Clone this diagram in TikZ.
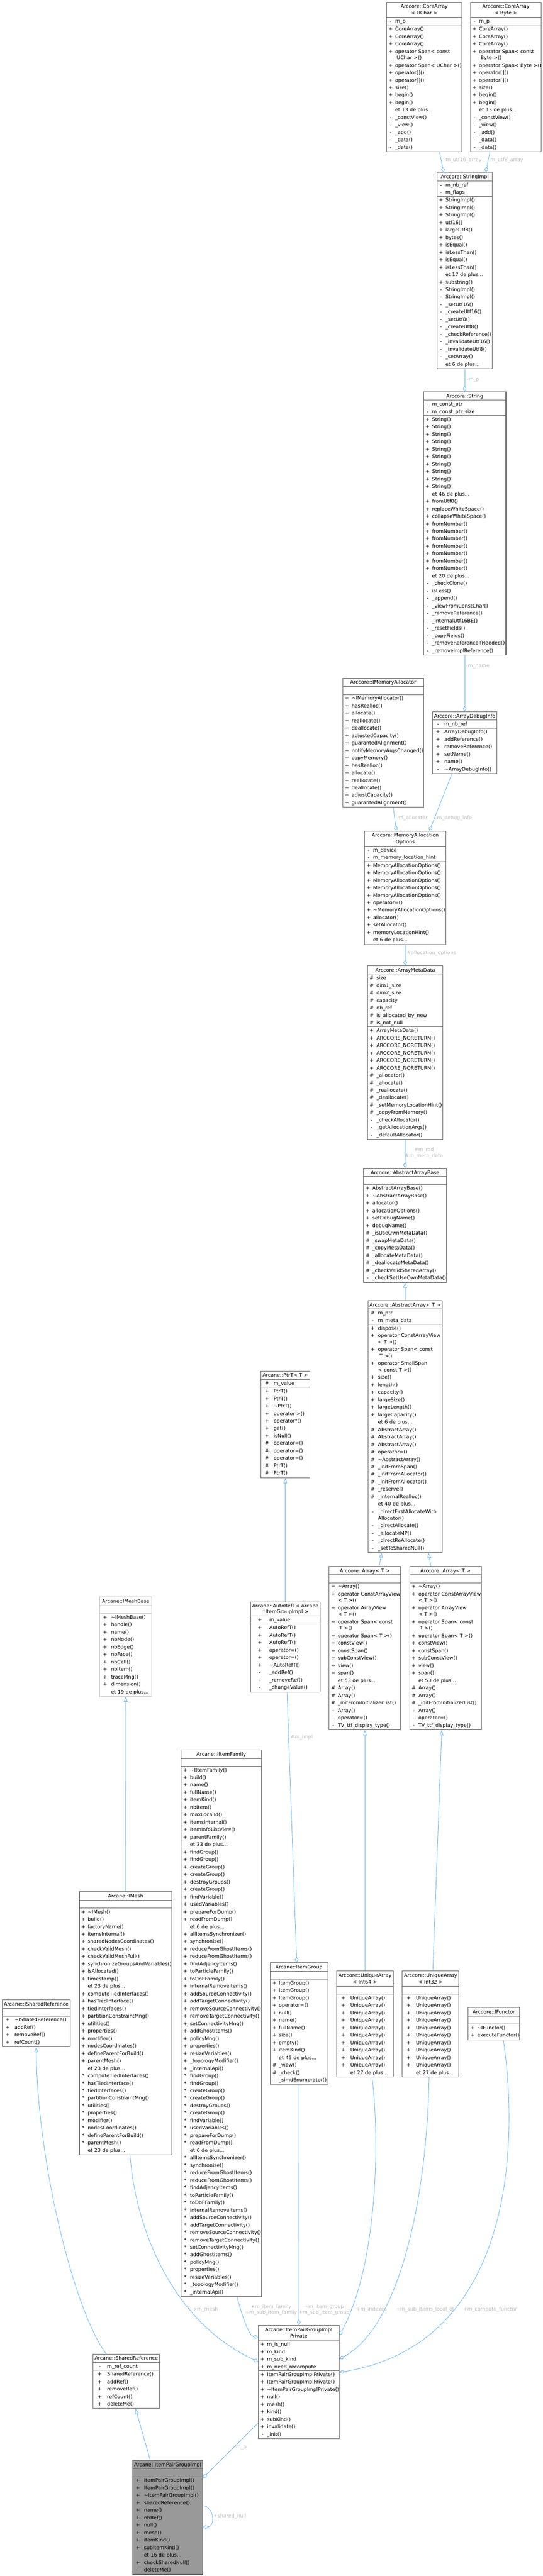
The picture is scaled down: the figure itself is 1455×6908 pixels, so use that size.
\documentclass[tikz,border=0pt]{standalone}
\usepackage{fontspec}
\setmainfont{DejaVu Sans}
\usetikzlibrary{arrows.meta, calc}

\definecolor{boxline}{HTML}{666666}
\definecolor{lightline}{HTML}{BFBFBF}
\definecolor{focusfill}{HTML}{999999}
\definecolor{edgeblue}{HTML}{63B8FF}
\definecolor{lblgray}{HTML}{BEBEBE}
\colorlet{sepcolor}{boxline}

\newdimen\px \px=0.75pt
\newdimen\sgnx \newdimen\namex
\newcommand\classbody[3]{\vbox{\offinterlineskip\sgnx=#1\px\namex=#2\px #3}}
\newcommand\rowbox[4]{\hbox to\hsize{\hbox to 2\sgnx{\hss#1\hss}\kern\dimexpr\namex-2\sgnx\relax#2\hss\vrule height #3 depth #4 width 0pt}}
\newcommand\rpub[1]{\rowbox{+}{#1}{10.9pt}{4.1pt}}
\newcommand\rpri[1]{\rowbox{-}{#1}{10.9pt}{4.1pt}}
\newcommand\rpro[1]{\rowbox{\#}{#1}{10.9pt}{4.1pt}}
\newcommand\rpkg[1]{\rowbox{*}{#1}{10.9pt}{4.1pt}}
\newcommand\retc[1]{\rowbox{}{#1}{10.9pt}{4.1pt}}
\newcommand\rpubtwo[2]{\rowbox{+}{#1}{10.9pt}{0.35pt}\rowbox{}{#2}{10.9pt}{4.1pt}}
\newcommand\rpritwo[2]{\rowbox{-}{#1}{10.9pt}{0.35pt}\rowbox{}{#2}{10.9pt}{4.1pt}}
\newcommand\ctitle[1]{\hbox to\hsize{\hss#1\hss\vrule height 12pt depth 4.5pt width 0pt}}
\newcommand\ctitletwo[2]{\hbox to\hsize{\hss#1\hss\vrule height 12pt depth 0.1pt width 0pt}\hbox to\hsize{\hss#2\hss\vrule height 11.15pt depth 4.85pt width 0pt}}
\newcommand\csep{{\color{sepcolor}\hrule height 0.75pt}}
\newcommand\cempty{\kern15pt}
\newcommand\cend{\kern1.5pt}

\tikzset{x=0.75pt, y=-0.75pt,
         classbox/.style={draw=boxline, fill=white, line width=1.1pt, inner sep=0pt,
                          anchor=north west, font=\fontsize{10pt}{12pt}\selectfont},
         focusbox/.style={classbox, fill=focusfill},
         lightbox/.style={classbox, draw=lightline},
         usedby/.style={draw=edgeblue, line width=0.9pt,
                        -{Diamond[open, length=11.25pt, width=7.5pt, line width=0.9pt]}},
         inherit/.style={draw=edgeblue, line width=0.9pt,
                         -{Triangle[open, length=10.5pt, width=7.5pt, line width=0.9pt]}},
         lbl/.style={text=lblgray, inner sep=0pt, align=center,
                     font=\fontsize{10pt}{11.5pt}\selectfont},
         }

\begin{document}
\begin{tikzpicture}
    \path[use as bounding box, fill=white] (0,0) rectangle (1455,6908);

    % Arccore arrays and strings
    \node[classbox, text width=151.5pt] (cauchar) at (1036,5) {\classbody{11}{23}{
        \ctitletwo{Arccore::CoreArray}{< UChar >}\csep
        \rpri{m\_p}\csep
        \rpub{CoreArray()}\rpub{CoreArray()}\rpub{CoreArray()}
        \rpubtwo{operator Span< const}{\kern3pt UChar >()}
        \rpub{operator Span< UChar >()}\rpub{operator[]()}\rpub{operator[]()}
        \rpub{size()}\rpub{begin()}\rpub{begin()}\retc{et 13 de plus...}
        \rpri{\_constView()}\rpri{\_view()}\rpri{\_add()}\rpri{\_data()}\rpri{\_data()}\cend}};
    \node[classbox, text width=142.5pt] (cabyte) at (1261,5) {\classbody{11}{23}{
        \ctitletwo{Arccore::CoreArray}{< Byte >}\csep
        \rpri{m\_p}\csep
        \rpub{CoreArray()}\rpub{CoreArray()}\rpub{CoreArray()}
        \rpubtwo{operator Span< const}{\kern3pt Byte >()}
        \rpub{operator Span< Byte >()}\rpub{operator[]()}\rpub{operator[]()}
        \rpub{size()}\rpub{begin()}\rpub{begin()}\retc{et 13 de plus...}
        \rpri{\_constView()}\rpri{\_view()}\rpri{\_add()}\rpri{\_data()}\rpri{\_data()}\cend}};
    \node[classbox, text width=111.75pt] (stringimpl) at (1171,462) {\classbody{11}{23}{
        \ctitle{Arccore::StringImpl}\csep
        \rpri{m\_nb\_ref}\rpri{m\_flags}\csep
        \rpub{StringImpl()}\rpub{StringImpl()}\rpub{StringImpl()}\rpub{utf16()}
        \rpub{largeUtf8()}\rpub{bytes()}\rpub{isEqual()}\rpub{isLessThan()}
        \rpub{isEqual()}\rpub{isLessThan()}\retc{et 17 de plus...}\rpub{substring()}
        \rpri{StringImpl()}\rpri{StringImpl()}\rpri{\_setUtf16()}\rpri{\_createUtf16()}
        \rpri{\_setUtf8()}\rpri{\_createUtf8()}\rpri{\_checkReference()}
        \rpri{\_invalidateUtf16()}\rpri{\_invalidateUtf8()}\rpri{\_setArray()}
        \retc{et 6 de plus...}\cend}};
    \node[classbox, text width=165.75pt] (string) at (1135,1050) {\classbody{11}{23}{
        \ctitle{Arccore::String}\csep
        \rpri{m\_const\_ptr}\rpri{m\_const\_ptr\_size}\csep
        \foreach \i in {1,...,10}{\rpub{String()}}
        \retc{et 46 de plus...}\rpub{fromUtf8()}\rpub{replaceWhiteSpace()}
        \rpub{collapseWhiteSpace()}
        \foreach \i in {1,...,7}{\rpub{fromNumber()}}
        \retc{et 20 de plus...}
        \rpri{\_checkClone()}\rpri{isLess()}\rpri{\_append()}\rpri{\_viewFromConstChar()}
        \rpri{\_removeReference()}\rpri{\_internalUtf16BE()}\rpri{\_resetFields()}
        \rpri{\_copyFields()}\rpri{\_removeReferenceIfNeeded()}\rpri{\_removeImplReference()}\cend}};

    % memory allocation
    \node[classbox, text width=162pt] (memalloc) at (919,1818) {\classbody{11}{23.5}{
        \ctitle{Arccore::IMemoryAllocator}\csep\cempty\csep
        \rpub{\textasciitilde IMemoryAllocator()}\rpub{hasRealloc()}\rpub{allocate()}
        \rpub{reallocate()}\rpub{deallocate()}\rpub{adjustedCapacity()}
        \rpub{guarantedAlignment()}\rpub{notifyMemoryArgsChanged()}\rpub{copyMemory()}
        \rpub{hasRealloc()}\rpub{allocate()}\rpub{reallocate()}\rpub{deallocate()}
        \rpub{adjustCapacity()}\rpub{guarantedAlignment()}\cend}};
    \node[classbox, text width=129.75pt] (debuginfo) at (1159,1908) {\classbody{15}{32}{
        \ctitle{Arccore::ArrayDebugInfo}\csep
        \rpri{m\_nb\_ref}\csep
        \rpub{ArrayDebugInfo()}\rpub{addReference()}\rpub{removeReference()}
        \rpub{setName()}\rpub{name()}\rpri{\textasciitilde ArrayDebugInfo()}\cend}};
    \node[classbox, text width=163.5pt] (allocopts) at (977,2228) {\classbody{11}{23}{
        \ctitletwo{Arccore::MemoryAllocation}{Options}\csep
        \rpri{m\_device}\rpri{m\_memory\_location\_hint}\csep
        \foreach \i in {1,...,5}{\rpub{MemoryAllocationOptions()}}
        \rpub{operator=()}\rpub{\textasciitilde MemoryAllocationOptions()}
        \rpub{allocator()}\rpub{setAllocator()}\rpub{memoryLocationHint()}
        \retc{et 6 de plus...}\cend}};
    \node[classbox, text width=151.5pt] (metadata) at (985,2589) {\classbody{11}{24}{
        \ctitle{Arccore::ArrayMetaData}\csep
        \rpro{size}\rpro{dim1\_size}\rpro{dim2\_size}\rpro{capacity}\rpro{nb\_ref}
        \rpro{is\_allocated\_by\_new}\rpro{is\_not\_null}\csep
        \rpub{ArrayMetaData()}
        \foreach \i in {1,...,5}{\rpub{ARCCORE\_NORETURN()}}
        \rpro{\_allocator()}\rpro{\_allocate()}\rpro{\_reallocate()}\rpro{\_deallocate()}
        \rpro{\_setMemoryLocationHint()}\rpro{\_copyFromMemory()}
        \rpri{\_checkAllocator()}\rpri{\_getAllocationArgs()}\rpri{\_defaultAllocator()}\cend}};
    \node[classbox, text width=167.25pt] (arraybase) at (974,3132) {\classbody{11.5}{24}{
        \ctitle{Arccore::AbstractArrayBase}\csep\cempty\csep
        \rpub{AbstractArrayBase()}\rpub{\textasciitilde AbstractArrayBase()}\rpub{allocator()}
        \rpub{allocationOptions()}\rpub{setDebugName()}\rpub{debugName()}
        \rpro{\_isUseOwnMetaData()}\rpro{\_swapMetaData()}\rpro{\_copyMetaData()}
        \rpro{\_allocateMetaData()}\rpro{\_deallocateMetaData()}
        \rpro{\_checkValidSharedArray()}\rpri{\_checkSetUseOwnMetaData()}\cend}};
    \node[classbox, text width=149.25pt] (abstractarray) at (986,3487) {\classbody{13}{27}{
        \ctitle{Arccore::AbstractArray< T >}\csep
        \rpro{m\_ptr}\rpri{m\_meta\_data}\csep
        \rpub{dispose()}
        \rpubtwo{operator ConstArrayView}{< T >()}
        \rpubtwo{operator Span< const}{\kern3pt T >()}
        \rpubtwo{operator SmallSpan}{< const T >()}
        \rpub{size()}\rpub{length()}\rpub{capacity()}\rpub{largeSize()}
        \rpub{largeLength()}\rpub{largeCapacity()}\retc{et 6 de plus...}
        \rpro{AbstractArray()}\rpro{AbstractArray()}\rpro{AbstractArray()}
        \rpro{operator=()}\rpro{\textasciitilde AbstractArray()}\rpro{\_initFromSpan()}
        \rpro{\_initFromAllocator()}\rpro{\_initFromAllocator()}\rpro{\_reserve()}
        \rpro{\_internalRealloc()}\retc{et 40 de plus...}
        \rpritwo{\_directFirstAllocateWith}{Allocator()}
        \rpri{\_directAllocate()}\rpri{\_allocateMP()}\rpri{\_directReAllocate()}
        \rpri{\_setToSharedNull()}\cend}};
    \foreach \nm/\xx in {arrayone/882, arraytwo/1098}
        \node[classbox, text width=144pt] (\nm) at (\xx,4200) {\classbody{11}{23.5}{
            \ctitle{Arccore::Array< T >}\csep\cempty\csep
            \rpub{\textasciitilde Array()}
            \rpubtwo{operator ConstArrayView}{< T >()}
            \rpubtwo{operator ArrayView}{< T >()}
            \rpubtwo{operator Span< const}{\kern3pt T >()}
            \rpub{operator Span< T >()}\rpub{constView()}\rpub{constSpan()}
            \rpub{subConstView()}\rpub{view()}\rpub{span()}\retc{et 53 de plus...}
            \rpro{Array()}\rpro{Array()}\rpro{\_initFromInitializerList()}
            \rpri{Array()}\rpri{operator=()}\rpri{TV\_ttf\_display\_type()}\cend}};
    \foreach \nm/\xx/\ty in {uniqueint64/902/Int64, uniqueint32/1078/Int32}
        \node[classbox, text width=114pt] (\nm) at (\xx,5285) {\classbody{17.5}{37}{
            \ctitletwo{Arccore::UniqueArray}{< \ty\ >}\csep\cempty\csep
            \foreach \i in {1,...,10}{\rpub{UniqueArray()}}
            \retc{et 27 de plus...}\cend}};
    \node[classbox, text width=102.75pt] (functor) at (1255,5383) {\classbody{11.5}{24}{
        \ctitle{Arccore::IFunctor}\csep\cempty\csep
        \rpub{\textasciitilde IFunctor()}\rpub{executeFunctor()}\cend}};

    % Arcane classes
    \node[classbox, text width=98.25pt] (ptrt) at (699,3676) {\classbody{16}{34}{
        \ctitle{Arcane::PtrT< T >}\csep
        \rpro{m\_value}\csep
        \rpub{PtrT()}\rpub{PtrT()}\rpub{\textasciitilde PtrT()}\rpub{operator->()}
        \rpub{operator*()}\rpub{get()}\rpub{isNull()}\rpro{operator=()}
        \rpro{operator=()}\rpro{operator=()}\rpro{PtrT()}\rpro{PtrT()}\cend}};
    \node[classbox, text width=140.25pt] (autoref) at (671,4295) {\classbody{25}{50.5}{
        \ctitletwo{Arcane::AutoRefT< Arcane}{::ItemGroupImpl >}\csep
        \rpub{m\_value}\csep
        \rpub{AutoRefT()}\rpub{AutoRefT()}\rpub{AutoRefT()}\rpub{operator=()}
        \rpub{operator=()}\rpub{\textasciitilde AutoRefT()}\rpri{\_addRef()}
        \rpri{\_removeRef()}\rpri{\_changeValue()}\cend}};
    \node[lightbox, text width=104.25pt] (imeshbase) at (267,4282) {\classbody{14}{30}{
        \colorlet{sepcolor}{lightline}
        \ctitle{Arcane::IMeshBase}\csep\cempty\csep
        \rpub{\textasciitilde IMeshBase()}\rpub{handle()}\rpub{name()}\rpub{nbNode()}
        \rpub{nbEdge()}\rpub{nbFace()}\rpub{nbCell()}\rpub{nbItem()}\rpub{traceMng()}
        \rpub{dimension()}\retc{et 19 de plus...}\cend}};
    \node[classbox, text width=186pt] (imesh) at (212,5072) {\classbody{10.5}{22.5}{
        \ctitle{Arcane::IMesh}\csep\cempty\csep
        \rpub{\textasciitilde IMesh()}\rpub{build()}\rpub{factoryName()}\rpub{itemsInternal()}
        \rpub{sharedNodesCoordinates()}\rpub{checkValidMesh()}\rpub{checkValidMeshFull()}
        \rpub{synchronizeGroupsAndVariables()}\rpub{isAllocated()}\rpub{timestamp()}
        \retc{et 23 de plus...}
        \foreach \rw in {\rpub,\rpkg}{%
            \rw{computeTiedInterfaces()}\rw{hasTiedInterface()}\rw{tiedInterfaces()}
            \rw{partitionConstraintMng()}\rw{utilities()}\rw{properties()}\rw{modifier()}
            \rw{nodesCoordinates()}\rw{defineParentForBuild()}\rw{parentMesh()}
            \retc{et 23 de plus...}}\cend}};
    \node[classbox, text width=161.25pt] (itemfamily) at (485,4692) {\classbody{11}{24}{
        \ctitle{Arcane::IItemFamily}\csep\cempty\csep
        \rpub{\textasciitilde IItemFamily()}\rpub{build()}\rpub{name()}\rpub{fullName()}
        \rpub{itemKind()}\rpub{nbItem()}\rpub{maxLocalId()}\rpub{itemsInternal()}
        \rpub{itemInfoListView()}\rpub{parentFamily()}\retc{et 33 de plus...}
        \foreach \rw in {\rpub,\rpkg}{%
            \rw{findGroup()}\rw{findGroup()}\rw{createGroup()}\rw{createGroup()}
            \rw{destroyGroups()}\rw{createGroup()}\rw{findVariable()}\rw{usedVariables()}
            \rw{prepareForDump()}\rw{readFromDump()}\retc{et 6 de plus...}
            \rw{allItemsSynchronizer()}\rw{synchronize()}\rw{reduceFromGhostItems()}
            \rw{reduceFromGhostItems()}\rw{findAdjencyItems()}\rw{toParticleFamily()}
            \rw{toDoFFamily()}\rw{internalRemoveItems()}\rw{addSourceConnectivity()}
            \rw{addTargetConnectivity()}\rw{removeSourceConnectivity()}
            \rw{removeTargetConnectivity()}\rw{setConnectivityMng()}\rw{addGhostItems()}
            \rw{policyMng()}\rw{properties()}\rw{resizeVariables()}
            \rw{\_topologyModifier()}\rw{\_internalApi()}}\cend}};
    \node[classbox, text width=115.5pt] (itemgroup) at (724,5263) {\classbody{11.5}{23}{
        \ctitle{Arcane::ItemGroup}\csep\cempty\csep
        \rpub{ItemGroup()}\rpub{ItemGroup()}\rpub{ItemGroup()}\rpub{operator=()}
        \rpub{null()}\rpub{name()}\rpub{fullName()}\rpub{size()}\rpub{empty()}
        \rpub{itemKind()}\retc{et 45 de plus...}\rpro{\_view()}\rpro{\_check()}
        \rpri{\_simdEnumerator()}\cend}};
    \node[classbox, text width=137.25pt] (isharedref) at (5,5362) {\classbody{15}{33}{
        \ctitle{Arcane::ISharedReference}\csep\cempty\csep
        \rpub{\textasciitilde ISharedReference()}\rpub{addRef()}\rpub{removeRef()}
        \rpub{refCount()}\cend}};
    \node[classbox, text width=133.5pt] (sharedref) at (249,6312) {\classbody{18}{37.5}{
        \ctitle{Arcane::SharedReference}\csep
        \rpri{m\_ref\_count}\csep
        \rpub{SharedReference()}\rpub{addRef()}\rpub{removeRef()}\rpub{refCount()}
        \rpub{deleteMe()}\cend}};
    \node[classbox, text width=162.75pt] (pairprivate) at (692,6235) {\classbody{11.5}{23.5}{
        \ctitletwo{Arcane::ItemPairGroupImpl}{Private}\csep
        \rpub{m\_is\_null}\rpub{m\_kind}\rpub{m\_sub\_kind}\rpub{m\_need\_recompute}\csep
        \rpub{ItemPairGroupImplPrivate()}\rpub{ItemPairGroupImplPrivate()}
        \rpub{\textasciitilde ItemPairGroupImplPrivate()}\rpub{null()}\rpub{mesh()}
        \rpub{kind()}\rpub{subKind()}\rpub{invalidate()}\rpri{\_init()}\cend}};
    \node[focusbox, text width=141pt] (pairimpl) at (355,6597) {\classbody{14}{30.5}{
        \ctitle{Arcane::ItemPairGroupImpl}\csep\cempty\csep
        \rpub{ItemPairGroupImpl()}\rpub{ItemPairGroupImpl()}
        \rpub{\textasciitilde ItemPairGroupImpl()}\rpub{sharedReference()}\rpub{name()}
        \rpub{nbRef()}\rpub{null()}\rpub{mesh()}\rpub{itemKind()}\rpub{subItemKind()}
        \retc{et 16 de plus...}\rpub{checkSharedNull()}\rpri{deleteMe()}\cend}};

    \draw[usedby] ($(cauchar.south)+(41,0)$) -- ($(stringimpl.north)+(-56.5,0)$);
    \draw[usedby] ($(cabyte.south)+(-43,0)$) -- ($(stringimpl.north)+(56.5,0)$);
    \draw[usedby] (stringimpl.south) -- (string.north);
    \draw[usedby] (string.south) -- (debuginfo.north);
    \draw[usedby] ($(memalloc.south)+(27,0)$) -- ($(allocopts.north)+(-24,0)$);
    \draw[usedby] ($(debuginfo.south)+(-34.5,0)$) -- ($(allocopts.north)+(65,0)$);
    \draw[usedby] (allocopts.south) -- (metadata.north);
    \draw[usedby] (metadata.south) -- (arraybase.north);
    \draw[inherit] (abstractarray.north) -- (arraybase.south);
    \draw[inherit] ($(arrayone.north)+(38,0)$) -- ($(abstractarray.south)+(-62.5,0)$);
    \draw[inherit] ($(arraytwo.north)+(-39,0)$) -- ($(abstractarray.south)+(62.5,0)$);
    \draw[inherit] (uniqueint64.north) -- (arrayone.south);
    \draw[inherit] ($(uniqueint32.north)+(6,0)$) -- ($(arraytwo.south)+(-10,0)$);
    \draw[inherit] (autoref.north) -- (ptrt.south);
    \draw[usedby] ($(autoref.south)+(4.5,0)$) -- ($(itemgroup.north)+(-6,0)$);
    \draw[inherit] (imesh.north) -- (imeshbase.south);
    \draw[usedby] (itemgroup.south) -- (pairprivate.north);
    \draw[usedby] ($(itemfamily.south)+(42.5,0)$) .. controls (650,6215) and (668,6262) .. ($(pairprivate.north west)+(0,34)$);
    \draw[usedby] ($(imesh.south)+(12,0)$) .. controls (365,5990) and (470,6230) .. ($(pairprivate.north west)+(0,98)$);
    \draw[usedby] ($(uniqueint64.south)+(19,0)$) .. controls (1020,5750) and (1010,6080) .. ($(pairprivate.north east)+(0,27)$);
    \draw[usedby] ($(uniqueint32.south)+(-4,0)$) .. controls (1145,5900) and (1070,6240) .. ($(pairprivate.north east)+(0,91)$);
    \draw[usedby] ($(functor.south)+(25.5,0)$) .. controls (1385,5700) and (1400,6280) .. ($(pairprivate.north east)+(0,127)$);
    \draw[inherit] ($(sharedref.north)+(-54,0)$) .. controls (200,6200) and (100,5800) .. (isharedref.south);
    \draw[inherit] ($(pairimpl.north)+(-47,0)$) -- ($(sharedref.south)+(25,0)$);
    \draw[usedby] ($(pairprivate.north west)+(0,263)$) -- ($(pairimpl.north east)+(0,48)$);
    \draw[usedby] ($(pairimpl.north east)+(0,122)$) .. controls +(32,6) and +(32,-2) .. ($(pairimpl.north east)+(0,180)$);

    \node[lbl, anchor=west] (lutfsixteen) at (1190,430) {-m\_utf16\_array};
    \node[lbl, anchor=west] (lutfeight) at (1310,430) {-m\_utf8\_array};
    \node[lbl, anchor=west] (limpl) at (1252,1019) {-m\_p};
    \node[lbl, anchor=west] (lname) at (1250,1787) {-m\_name};
    \node[lbl, anchor=west] (lalloc) at (1064,2194) {-m\_allocator};
    \node[lbl, anchor=west] (ldebug) at (1167,2194) {-m\_debug\_info};
    \node[lbl, anchor=west] (lopts) at (1091,2556) {\#allocation\_options};
    \node[lbl] (lmeta) at (1137,3092) {\#m\_md\\\#m\_meta\_data};
    \node[lbl, anchor=west] (lgroupimpl) at (779,4659) {\#m\_impl};
    \node[lbl] (lmesh) at (551,6194) {+m\_mesh};
    \node[lbl] (lfamily) at (727,6194) {+m\_item\_family\\+m\_sub\_item\_family};
    \node[lbl] (lgroup) at (869,6194) {+m\_item\_group\\+m\_sub\_item\_group};
    \node[lbl, anchor=west] (lindexes) at (955,6194) {+m\_indexes};
    \node[lbl, anchor=west] (llocalid) at (1062,6194) {+m\_sub\_items\_local\_id};
    \node[lbl, anchor=west] (lfunctor) at (1242,6194) {+m\_compute\_functor};
    \node[lbl, anchor=west] (lpriv) at (628,6564) {-m\_p};
    \node[lbl, anchor=west] (lnull) at (572,6748) {+shared\_null};
\end{tikzpicture}
\end{document}
